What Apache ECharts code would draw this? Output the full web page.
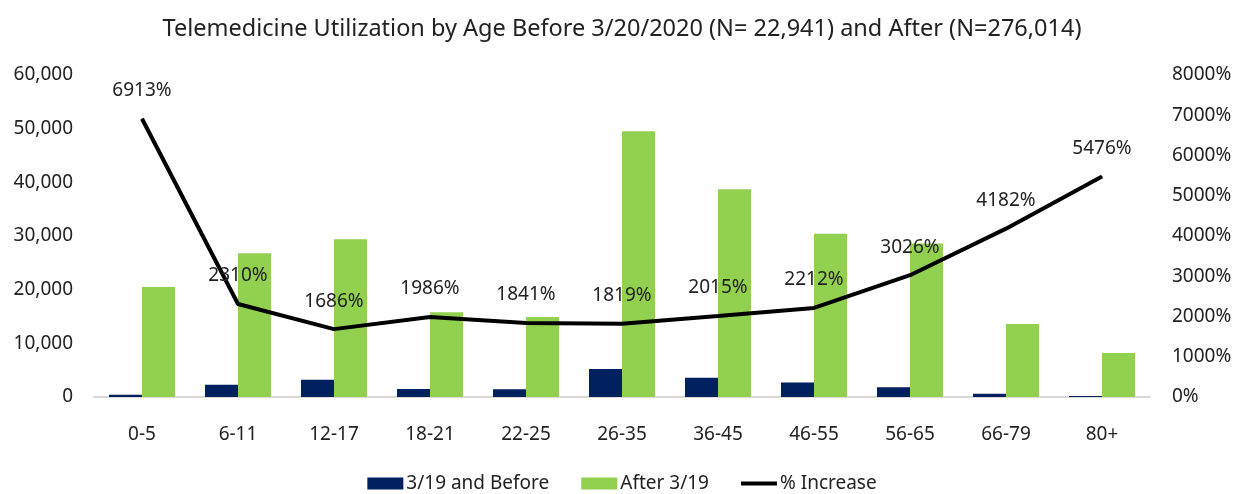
<!DOCTYPE html>
<html>
<head>
<meta charset="utf-8">
<script src="https://cdn.jsdelivr.net/npm/echarts@6/dist/echarts.min.js"></script>
<style>
    html, body { margin: 0; padding: 0; background: #fff; }
    #chart { width: 1244px; height: 494px; }
</style>
</head>
<body>
<div id="chart"></div>
<script>
// categorias de edad
var ageGroups = ['0-5', '6-11', '12-17', '18-21', '22-25', '26-35', '36-45', '46-55', '56-65', '66-79', '80+'];
// visitas antes y despues del 3/19
var beforeVisits = [400, 2300, 3200, 1500, 1450, 5200, 3600, 2700, 1800, 600, 200];
var afterVisits = [20500, 26800, 29400, 15800, 14900, 49500, 38700, 30400, 28600, 13600, 8200];
// porcentaje de incremento
var pctIncrease = [6913, 2310, 1686, 1986, 1841, 1819, 2015, 2212, 3026, 4182, 5476];

var fuente = 'Noto Sans';
var chart = echarts.init(document.getElementById('chart'));

chart.setOption({
    animation: false,
    textStyle: { fontFamily: fuente },
    title: {
        text: 'Telemedicine Utilization by Age Before 3/20/2020 (N= 22,941) and After (N=276,014)',
        left: 'center',
        top: 12,
        textStyle: { fontFamily: fuente, fontSize: 23.5, fontWeight: 'normal', color: '#222' }
    },
    legend: {
        bottom: -4,
        left: 'center',
        itemWidth: 36,
        itemHeight: 12,
        itemGap: 32,
        textStyle: { fontFamily: fuente, fontSize: 19, color: '#222', padding: [0, 0, 0, -2] },
        data: [
            { name: '3/19 and Before', icon: 'rect' },
            { name: 'After 3/19', icon: 'rect' },
            { name: '% Increase', icon: 'path://M0,0 L36,0 L36,4 L0,4 Z' }
        ]
    },
    grid: { left: 94, right: 94, top: 75, bottom: 97 },
    xAxis: {
        type: 'category',
        data: ageGroups,
        axisLine: { lineStyle: { color: '#d9d9d9', width: 2 } },
        axisTick: { show: false },
        axisLabel: { fontFamily: fuente, fontSize: 19, color: '#222', margin: 28 }
    },
    yAxis: [{
        type: 'value',
        min: 0,
        max: 60000,
        interval: 10000,
        splitLine: { show: false },
        axisLine: { show: false },
        axisLabel: {
            fontFamily: fuente, fontSize: 19, color: '#222', margin: 21,
            formatter: function (v) { return v.toLocaleString('en-US'); }
        }
    }, {
        type: 'value',
        min: 0,
        max: 8000,
        interval: 1000,
        splitLine: { show: false },
        axisLine: { show: false },
        axisLabel: {
            fontFamily: fuente, fontSize: 19, color: '#222', margin: 22,
            formatter: function (v) { return v + '%'; }
        }
    }],
    series: [{
        name: '3/19 and Before',
        type: 'bar',
        data: beforeVisits,
        barWidth: 33,
        barGap: '0%',
        itemStyle: { color: '#002060' }
    }, {
        name: 'After 3/19',
        type: 'bar',
        data: afterVisits,
        barWidth: 33,
        barGap: '0%',
        itemStyle: { color: '#92d050' }
    }, {
        name: '% Increase',
        type: 'line',
        yAxisIndex: 1,
        data: pctIncrease,
        symbol: 'circle',
        symbolSize: 1,
        itemStyle: { color: '#000' },
        lineStyle: { color: '#000', width: 4 },
        label: {
            show: true,
            position: 'top',
            distance: 18,
            fontFamily: fuente,
            fontSize: 19,
            color: '#222',
            formatter: function (p) { return p.value + '%'; }
        },
        z: 5
    }]
});
</script>
</body>
</html>
